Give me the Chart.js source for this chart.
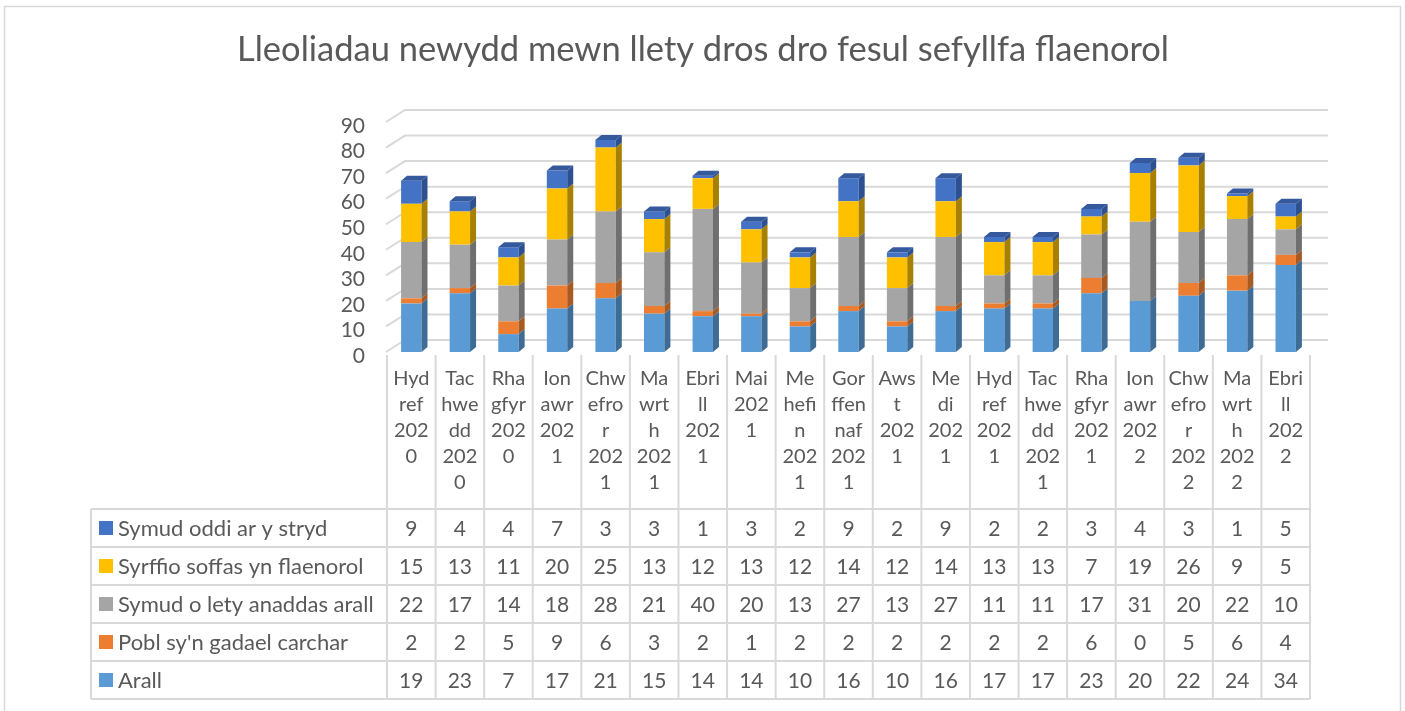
<!DOCTYPE html>
<html>
<head>
<meta charset="utf-8">
<title>Lleoliadau newydd mewn llety dros dro</title>
<script src="https://cdn.jsdelivr.net/npm/chart.js@4.4.1/dist/chart.umd.min.js"></script>
<style>
    html, body { margin: 0; padding: 0; background: #ffffff; }
    #wrap { position: relative; width: 1405px; height: 711px; }
</style>
</head>
<body>
<div id="wrap"><canvas id="placementsChart"></canvas></div>
<script>
// Categories (full names) and the way Excel wrapped them in the data table
const months = [
    'Hydref 2020', 'Tachwedd 2020', 'Rhagfyr 2020', 'Ionawr 2021', 'Chwefror 2021',
    'Mawrth 2021', 'Ebrill 2021', 'Mai 2021', 'Mehefin 2021', 'Gorffennaf 2021',
    'Awst 2021', 'Medi 2021', 'Hydref 2021', 'Tachwedd 2021', 'Rhagfyr 2021',
    'Ionawr 2022', 'Chwefror 2022', 'Mawrth 2022', 'Ebrill 2022'
];
const monthLabelLines = [
    ['Hyd', 'ref', '202', '0'], ['Tac', 'hwe', 'dd', '202', '0'], ['Rha', 'gfyr', '202', '0'],
    ['Ion', 'awr', '202', '1'], ['Chw', 'efro', 'r', '202', '1'], ['Ma', 'wrt', 'h', '202', '1'],
    ['Ebri', 'll', '202', '1'], ['Mai', '202', '1'], ['Me', 'hefi', 'n', '202', '1'],
    ['Gor', 'ffen', 'naf', '202', '1'], ['Aws', 't', '202', '1'], ['Me', 'di', '202', '1'],
    ['Hyd', 'ref', '202', '1'], ['Tac', 'hwe', 'dd', '202', '1'], ['Rha', 'gfyr', '202', '1'],
    ['Ion', 'awr', '202', '2'], ['Chw', 'efro', 'r', '202', '2'], ['Ma', 'wrt', 'h', '202', '2'],
    ['Ebri', 'll', '202', '2']
];

// Series, bottom of the stack first
const seriesNames = [
    'Arall',
    "Pobl sy'n gadael carchar",
    'Symud o lety anaddas arall',
    'Syrffio soffas yn flaenorol',
    'Symud oddi ar y stryd'
];
const arall   = [19, 23, 7, 17, 21, 15, 14, 14, 10, 16, 10, 16, 17, 17, 23, 20, 22, 24, 34];
const carchar = [2, 2, 5, 9, 6, 3, 2, 1, 2, 2, 2, 2, 2, 2, 6, 0, 5, 6, 4];
const lety    = [22, 17, 14, 18, 28, 21, 40, 20, 13, 27, 13, 27, 11, 11, 17, 31, 20, 22, 10];
const soffas  = [15, 13, 11, 20, 25, 13, 12, 13, 12, 14, 12, 14, 13, 13, 7, 19, 26, 9, 5];
const stryd   = [9, 4, 4, 7, 3, 3, 1, 3, 2, 9, 2, 9, 2, 2, 3, 4, 3, 1, 5];
const seriesValues = [arall, carchar, lety, soffas, stryd];

const yTicks = [0, 10, 20, 30, 40, 50, 60, 70, 80, 90];
const chartTitle = 'Lleoliadau newydd mewn llety dros dro fesul sefyllfa flaenorol';

// Styles
const frontColors = ['#5B9BD5', '#ED7D31', '#A5A5A5', '#FFC000', '#4472C4'];
const sideColors  = ['#3E6C95', '#A85A23', '#6F6F6F', '#A88000', '#2E5090'];
const topColor = '#34599C';
const FONT = 'Lato, "Open Sans", sans-serif';
const TEXT = '#595959';
const GRID = '#D9D9D9';

// 3D look + title + data table, drawn off the chart's own scales
const excelLook = {
    id: 'excelLook',
    beforeDraw(chart) {
        const { ctx, chartArea, scales } = chart;
        ctx.save();
        // outer chart frame
        ctx.strokeStyle = GRID;
        ctx.lineWidth = 1.5;
        ctx.strokeRect(4.5, 6.5, 1396, 740);
        // title, centred on the whole frame
        ctx.fillStyle = TEXT;
        ctx.font = '34.5px ' + FONT;
        ctx.textAlign = 'center';
        ctx.textBaseline = 'middle';
        ctx.fillText(chartTitle, 703, 50);
        // back wall + floor gridlines
        const dx = 18, dy = -12;
        ctx.strokeStyle = GRID;
        ctx.lineWidth = 2;
        yTicks.forEach(v => {
            const y = scales.y.getPixelForValue(v);
            ctx.beginPath();
            ctx.moveTo(chartArea.left - 1, y);
            ctx.lineTo(chartArea.left + dx, y + dy);
            ctx.lineTo(chartArea.right + dx, y + dy);
            ctx.stroke();
        });
        ctx.restore();
    },
    afterDatasetsDraw(chart) {
        const { ctx } = chart;
        const dx = 6, dy = -5;
        ctx.save();
        chart.data.datasets.forEach((ds, di) => {
            const meta = chart.getDatasetMeta(di);
            meta.data.forEach(bar => {
                const p = bar.getProps(['x', 'y', 'base', 'width'], true);
                if (Math.abs(p.base - p.y) < 0.5) return;
                const r = p.x + p.width / 2;
                ctx.fillStyle = sideColors[di];
                ctx.beginPath();
                ctx.moveTo(r, p.y);
                ctx.lineTo(r + dx, p.y + dy);
                ctx.lineTo(r + dx, p.base + dy);
                ctx.lineTo(r, p.base);
                ctx.closePath();
                ctx.fill();
            });
        });
        // top face on the highest segment
        const lastMeta = chart.getDatasetMeta(chart.data.datasets.length - 1);
        lastMeta.data.forEach(bar => {
            const p = bar.getProps(['x', 'y', 'width'], true);
            const l = p.x - p.width / 2, r = p.x + p.width / 2;
            ctx.fillStyle = topColor;
            ctx.beginPath();
            ctx.moveTo(l, p.y);
            ctx.lineTo(l + dx, p.y + dy);
            ctx.lineTo(r + dx, p.y + dy);
            ctx.lineTo(r, p.y);
            ctx.closePath();
            ctx.fill();
        });
        ctx.restore();
    },
    afterDraw(chart) {
        const { ctx, chartArea, scales } = chart;
        const n = months.length;
        const colW = (chartArea.right - chartArea.left) / n;
        const labelTop = chartArea.bottom + 3;
        const rowsTop = 509, rowH = 38, tableLeft = 91;
        const rowsBottom = rowsTop + rowH * seriesNames.length;

        ctx.save();
        ctx.strokeStyle = GRID;
        ctx.lineWidth = 2;
        // vertical lines
        for (let i = 0; i <= n; i++) {
            const x = chartArea.left + i * colW;
            ctx.beginPath();
            ctx.moveTo(x, labelTop);
            ctx.lineTo(x, rowsBottom);
            ctx.stroke();
        }
        ctx.beginPath();
        ctx.moveTo(tableLeft, rowsTop);
        ctx.lineTo(tableLeft, rowsBottom);
        ctx.stroke();
        // horizontal lines
        for (let r = 0; r <= seriesNames.length; r++) {
            const y = rowsTop + r * rowH;
            ctx.beginPath();
            ctx.moveTo(tableLeft, y);
            ctx.lineTo(chartArea.right, y);
            ctx.stroke();
        }

        // category labels
        ctx.fillStyle = TEXT;
        ctx.font = '20px ' + FONT;
        ctx.textAlign = 'center';
        ctx.textBaseline = 'middle';
        monthLabelLines.forEach((lines, i) => {
            const x = scales.x.getPixelForValue(i);
            lines.forEach((t, k) => ctx.fillText(t, x, labelTop + 24 + k * 26));
        });

        // series rows: top row is the top of the stack
        const order = seriesNames.map((_, i) => i).reverse();
        order.forEach((si, r) => {
            const yc = rowsTop + r * rowH + rowH / 2;
            ctx.fillStyle = frontColors[si];
            ctx.fillRect(99, yc - 7, 14, 14);
            ctx.fillStyle = TEXT;
            ctx.textAlign = 'left';
            ctx.font = '22px ' + FONT;
            ctx.fillText(seriesNames[si], 118, yc + 1);
            ctx.textAlign = 'center';
            ctx.font = '21px ' + FONT;
            seriesValues[si].forEach((v, i) => {
                ctx.fillText(String(v), scales.x.getPixelForValue(i), yc + 1);
            });
        });
        ctx.restore();
    }
};

const ctx = document.getElementById('placementsChart').getContext('2d');
const placementsChart = new Chart(ctx, {
    type: 'bar',
    data: {
        labels: months,
        datasets: seriesValues.map((vals, i) => ({
            label: seriesNames[i],
            data: vals,
            backgroundColor: frontColors[i],
            borderWidth: 0,
            categoryPercentage: 0.42,
            barPercentage: 1
        }))
    },
    options: {
        responsive: true,
        maintainAspectRatio: false,
        animation: false,
        layout: {
            padding: { left: 0, right: 95, top: 122, bottom: 359 }
        },
        plugins: {
            legend: { display: false },
            tooltip: { enabled: false },
            title: { display: false }
        },
        scales: {
            x: {
                stacked: true,
                display: false
            },
            y: {
                stacked: true,
                min: 0,
                max: 90,
                afterFit: (scale) => { scale.width = 387; },
                afterBuildTicks: (scale) => { scale.ticks = yTicks.map(v => ({ value: v })); },
                grid: { display: false, drawTicks: false },
                border: { display: false },
                ticks: {
                    color: TEXT,
                    padding: 22,
                    autoSkip: false,
                    labelOffset: 4,
                    font: { family: FONT, size: 21 }
                }
            }
        }
    },
    plugins: [excelLook]
});
</script>
</body>
</html>
